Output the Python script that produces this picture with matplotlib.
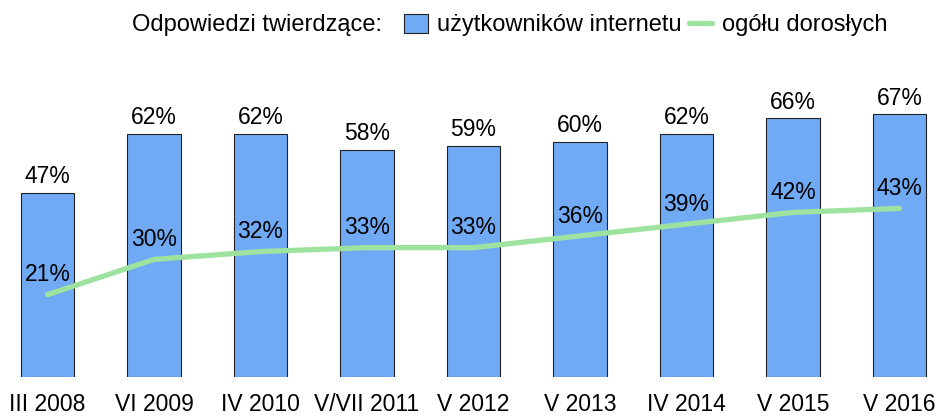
import matplotlib

matplotlib.use("Agg")
import matplotlib.pyplot as plt
from matplotlib.patches import Patch
from matplotlib.lines import Line2D

plt.rcParams["font.family"] = ["Liberation Sans", "DejaVu Sans"]

categories = ["III 2008", "VI 2009", "IV 2010", "V/VII 2011", "V 2012",
              "V 2013", "IV 2014", "V 2015", "V 2016"]
internet_users = [47, 62, 62, 58, 59, 60, 62, 66, 67]
all_adults = [21, 30, 32, 33, 33, 36, 39, 42, 43]

BAR_COLOR = "#70aaf5"
LINE_COLOR = "#9de39f"
FS = 16.5
LEG_FS = 17


def main():
    fig = plt.figure(figsize=(9.39, 4.16), dpi=100)
    ax = fig.add_axes([0, 39 / 416, 1, 377 / 416])
    xs = list(range(len(categories)))

    ax.bar(xs, internet_users, width=0.5, color=BAR_COLOR, edgecolor="#222222",
           linewidth=0.8, zorder=2)
    ax.plot(xs, all_adults, color=LINE_COLOR, linewidth=3.8,
            solid_capstyle="round", solid_joinstyle="round", zorder=3)

    for x, v in zip(xs, internet_users):
        ax.annotate(f"{v}%", (x, v), xytext=(0, 7), textcoords="offset points",
                    ha="center", va="baseline", fontsize=FS, zorder=4)
    for x, v in zip(xs, all_adults):
        ax.annotate(f"{v}%", (x, v), xytext=(0, 9.5), textcoords="offset points",
                    ha="center", va="baseline", fontsize=FS, zorder=4)

    ax.set_xlim(-47.5 / 106.5, (939 - 47.5) / 106.5)
    ax.set_ylim(0, 377 / 3.92)
    ax.set_xticks(xs)
    ax.set_xticklabels(categories, fontsize=FS)
    ax.tick_params(axis="x", length=0, pad=11.5)
    ax.set_yticks([])
    for s in ax.spines.values():
        s.set_visible(False)
    ax.patch.set_visible(False)

    fig.text(132 / 939, 1 - 25 / 416, "Odpowiedzi twierdzące:", fontsize=LEG_FS,
             ha="left", va="center")
    handles = [Patch(facecolor=BAR_COLOR, edgecolor="#222222", linewidth=0.8),
               Line2D([0], [0], color=LINE_COLOR, linewidth=3.8,
                      solid_capstyle="round")]
    fig.legend(handles, ["użytkowników internetu", "ogółu dorosłych"],
               loc="center left", bbox_to_anchor=(404 / 939, 1 - 25 / 416),
               ncol=2, frameon=False, fontsize=LEG_FS, handlelength=1.0,
               handleheight=0.9, handletextpad=0.4, columnspacing=0.3,
               borderpad=0, borderaxespad=0)

    fig.savefig("out.png", dpi=100)


if __name__ == "__main__":
    main()
